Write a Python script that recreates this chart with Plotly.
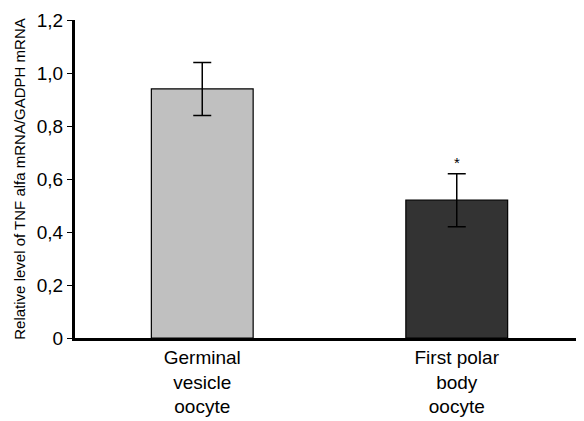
import plotly.graph_objects as go

categories = ["Germinal<br>vesicle<br>oocyte", "First polar<br>body<br>oocyte"]
values = [0.94, 0.52]
errors = [0.10, 0.10]
colors = ["#c0c0c0", "#333333"]
y_ticks = [0, 0.2, 0.4, 0.6, 0.8, 1.0, 1.2]
y_tick_labels = ["0", "0,2", "0,4", "0,6", "0,8", "1,0", "1,2"]
annotation_text = ["", "*"]

fig = go.Figure()
fig.add_trace(go.Bar(
    x=categories, y=values, width=0.4,
    marker=dict(color=colors, line=dict(color="black", width=1.2)),
    error_y=dict(type="data", array=errors, visible=True, color="black", thickness=1.5, width=9),
    showlegend=False,
))
for c, v, e, t in zip(categories, values, errors, annotation_text):
    if t:
        fig.add_annotation(x=c, y=v + e, text=t, showarrow=False, yanchor="bottom", yshift=1,
                           font=dict(family="Liberation Sans, Arial", size=15, color="black"))

fig.update_layout(
    width=576, height=413,
    margin=dict(l=67, r=0, t=12, b=83),
    plot_bgcolor="white", paper_bgcolor="white",
    font=dict(family="Liberation Sans, Arial", color="black"),
    bargap=0.6,
)
fig.update_xaxes(
    range=[-0.5, 1.5], showline=True, linecolor="black", linewidth=3,
    ticks="", tickfont=dict(size=19), showgrid=False, zeroline=False,
)
fig.update_yaxes(
    range=[0, 1.2], showline=True, linecolor="black", linewidth=3,
    ticks="outside", ticklen=5, tickwidth=1, tickcolor="black",
    tickvals=y_ticks, ticktext=y_tick_labels, tickfont=dict(size=19),
    showgrid=False, zeroline=False,
    title=dict(text="Relative level of TNF alfa mRNA/GADPH mRNA", font=dict(size=15), standoff=8),
)
fig.write_html("out.html")
